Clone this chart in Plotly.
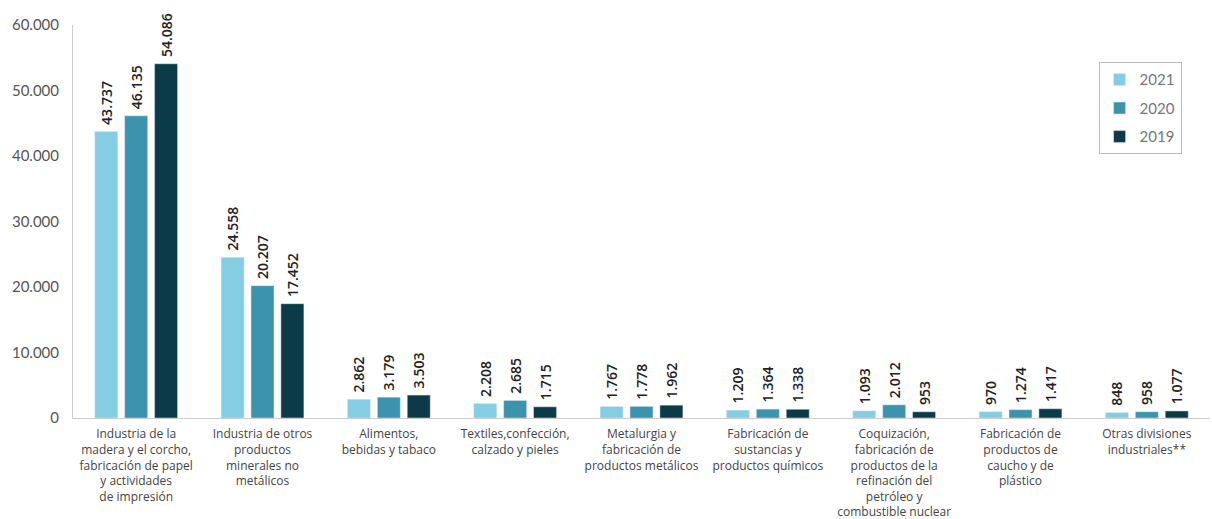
import plotly.graph_objects as go

categories = [
    "Industria de la<br>madera y el corcho,<br>fabricación de papel<br>y actividades<br>de impresión",
    "Industria de otros<br>productos<br>minerales no<br>metálicos",
    "Alimentos,<br>bebidas y tabaco",
    "Textiles,confección,<br>calzado y pieles",
    "Metalurgia y<br>fabricación de<br>productos metálicos",
    "Fabricación de<br>sustancias y<br>productos químicos",
    "Coquización,<br>fabricación de<br>productos de la<br>refinación del<br>petróleo y<br>combustible nuclear",
    "Fabricación de<br>productos de<br>caucho y de<br>plástico",
    "Otras divisiones<br>industriales**",
]
v2021 = [43737, 24558, 2862, 2208, 1767, 1209, 1093, 970, 848]
v2020 = [46135, 20207, 3179, 2685, 1778, 1364, 2012, 1274, 958]
v2019 = [54086, 17452, 3503, 1715, 1962, 1338, 953, 1417, 1077]
series = [("2021", v2021, "#84cde2"), ("2020", v2020, "#3b93ae"), ("2019", v2019, "#0b3a48")]

fig = go.Figure()
for name, vals, col in series:
    fig.add_trace(go.Bar(
        x=categories, y=vals, name=name, marker_color=col,
        texttemplate="\u00a0%{y:,}", textposition="outside", textangle=-90,
        constraintext="none",
        textfont=dict(family="Open Sans", size=14, color="#222222", weight=600),
        legendgroup=name, cliponaxis=False,
    ))

fig.update_layout(
    width=1212, height=519,
    margin=dict(l=73, r=2, t=25, b=101, autoexpand=False),
    paper_bgcolor="white", plot_bgcolor="white",
    separators=",.",
    barmode="group", bargap=0.29, bargroupgap=0.23,
    font=dict(family="Lato", color="#444444"),
    legend=dict(x=0.902, y=0.905, xanchor="left", yanchor="top",
                bordercolor="#bbbbbb", borderwidth=1, bgcolor="white",
                font=dict(size=15, color="#777777"), tracegroupgap=6,
                itemwidth=30),
)
fig.update_yaxes(range=[0, 60000], dtick=10000, tickformat=",", showgrid=False,
                 showline=True, linecolor="#cccccc", linewidth=1, zeroline=False,
                 tickfont=dict(size=15, color="#555555"), ticks="",
                 ticklabelstandoff=10, automargin=False)
fig.update_xaxes(showline=True, linecolor="#cccccc", linewidth=1, tickangle=0,
                 tickfont=dict(family="Open Sans", size=12, color="#444444"), ticks="",
                 ticklabelstandoff=5, automargin=False)

fig.write_html("out.html")
